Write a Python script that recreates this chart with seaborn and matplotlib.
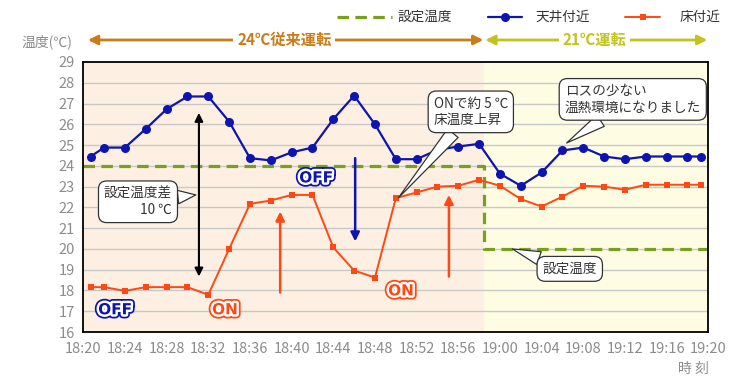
import numpy as np
import pandas as pd
import matplotlib
matplotlib.use('Agg')
import matplotlib.pyplot as plt
import matplotlib.patheffects as pe
from matplotlib.lines import Line2D
from matplotlib.ticker import MultipleLocator
import seaborn as sns

# time in minutes after 18:20
minutes = [0.7, 2, 4, 6, 8, 10, 12, 14, 16, 18, 20, 22, 24, 26, 28, 30,
           32, 34, 36, 38, 40, 42, 44, 46, 48, 50, 52, 54, 56, 58, 59.3]
ceiling = [24.45, 24.88, 24.88, 25.78, 26.73, 27.34, 27.34, 26.13, 24.37, 24.26,
           24.65, 24.88, 26.25, 27.38, 26.0, 24.32, 24.32, 24.77, 24.93, 25.06,
           23.62, 23.04, 23.68, 24.74, 24.88, 24.45, 24.32, 24.45, 24.45, 24.45, 24.45]
floor = [18.16, 18.16, 17.98, 18.16, 18.16, 18.16, 17.79, 20.0, 22.17, 22.33,
         22.6, 22.6, 20.07, 18.96, 18.62, 22.44, 22.72, 23.0, 23.04, 23.33,
         23.04, 22.40, 22.04, 22.52, 23.04, 23.0, 22.85, 23.09, 23.09, 23.09, 23.09]
set_x = [0, 38.5, 38.5, 60]
set_y = [24, 24, 20, 20]
switch_min = 38.5
xtick_labels = ['18:20', '18:24', '18:28', '18:32', '18:36', '18:40', '18:44', '18:48',
                '18:52', '18:56', '19:00', '19:04', '19:08', '19:12', '19:16', '19:20']

BLUE = '#0d14b0'
RED = '#ff4814'
GREEN = '#78a01e'
ORANGE = '#c87d19'
YGREEN = '#c3c31e'
GRAY = '#8c8c8c'
TXT = '#333333'

df = pd.DataFrame({'min': minutes, 'ceiling': ceiling, 'floor': floor})

sns.set_style('white')
plt.rcParams['font.family'] = ['Noto Sans CJK JP', 'DejaVu Sans']

fig = plt.figure(figsize=(7.5, 3.9), dpi=100)
ax = fig.add_axes([83.3 / 750, 1 - 332 / 390, 625 / 750, 270 / 390])

# background bands + grid
ax.axvspan(0, switch_min, color='#fdf0e2', zorder=0, lw=0)
ax.axvspan(switch_min, 60, color='#fefde4', zorder=0, lw=0)
for v in range(17, 29):
    ax.axhline(v, color='#c8c8c8', lw=1, zorder=0.5)

# set temperature
ax.plot(set_x, set_y, color=GREEN, lw=2.3, dashes=(3.6, 2.0), zorder=2)

sns.lineplot(data=df, x='min', y='ceiling', ax=ax, color=BLUE, lw=1.6,
             marker='o', markersize=6.5, markeredgewidth=0, zorder=3)
sns.lineplot(data=df, x='min', y='floor', ax=ax, color=RED, lw=1.4,
             marker='s', markersize=4.5, markeredgewidth=0, zorder=3)

ax.set_xlim(0, 60)
ax.set_ylim(16, 29)
ax.set_xticks(range(0, 61, 4))
ax.set_xticklabels(xtick_labels)
ax.xaxis.set_minor_locator(MultipleLocator(1))
ax.set_yticks(range(16, 30))
ax.set_xlabel('')
ax.set_ylabel('')
ax.tick_params(axis='x', which='major', direction='in', length=5, width=1,
               color='#444444', labelsize=10.5, labelcolor=GRAY, pad=7)
ax.tick_params(axis='x', which='minor', direction='in', length=3, width=0.8,
               color='#444444')
ax.tick_params(axis='y', length=0, labelsize=10.5, labelcolor=GRAY, pad=6)
for s in ax.spines.values():
    s.set_color('black')
    s.set_linewidth(1.3)

# top arrows for operating modes
ytop = 30.06
ax.annotate('', xy=(0.45, ytop), xytext=(38.4, ytop), annotation_clip=False,
            arrowprops=dict(arrowstyle='<|-|>', color=ORANGE, lw=2, mutation_scale=14,
                            shrinkA=0, shrinkB=0))
ax.text(19.3, ytop, '24℃従来運転', color=ORANGE, fontsize=11, fontweight='bold',
        ha='center', va='center', clip_on=False,
        bbox=dict(boxstyle='square,pad=0.25', fc='white', ec='none'))
ax.annotate('', xy=(38.6, ytop), xytext=(59.9, ytop), annotation_clip=False,
            arrowprops=dict(arrowstyle='<|-|>', color=YGREEN, lw=2, mutation_scale=14,
                            shrinkA=0, shrinkB=0))
ax.text(49.1, ytop, '21℃運転', color=YGREEN, fontsize=11, fontweight='bold',
        ha='center', va='center', clip_on=False,
        bbox=dict(boxstyle='square,pad=0.25', fc='white', ec='none'))

# vertical arrows inside the plot
ax.annotate('', xy=(11.1, 26.55), xytext=(11.1, 18.67),
            arrowprops=dict(arrowstyle='<|-|>', color='black', lw=1.5, mutation_scale=12,
                            shrinkA=0, shrinkB=0), zorder=4)
ax.annotate('', xy=(26.1, 20.36), xytext=(26.1, 24.37),
            arrowprops=dict(arrowstyle='-|>', color=BLUE, lw=1.8, mutation_scale=13,
                            shrinkA=0, shrinkB=0), zorder=4)
for xa, y0, y1 in [(18.9, 17.9, 21.8), (35.1, 18.67, 22.6)]:
    ax.annotate('', xy=(xa, y1), xytext=(xa, y0),
                arrowprops=dict(arrowstyle='-|>', color=RED, lw=1.8, mutation_scale=13,
                                shrinkA=0, shrinkB=0), zorder=4)

# ON / OFF badges
def badge(x, y, s, c):
    t = ax.text(x, y, s, color=c, fontsize=11, fontweight='bold', ha='center',
                va='center', family=['DejaVu Sans'], zorder=5)
    t.set_path_effects([pe.Stroke(linewidth=6, foreground=c),
                        pe.Stroke(linewidth=3.5, foreground='white'), pe.Normal()])

badge(3.05, 17.07, 'OFF', BLUE)
badge(13.6, 17.07, 'ON', RED)
badge(22.35, 23.42, 'OFF', BLUE)
badge(30.5, 17.98, 'ON', RED)

# callouts
def callout(text, xy, xyt, ma='left'):
    ax.annotate(text, xy=xy, xytext=xyt, fontsize=9.8, color=TXT, ha='center',
                va='center', multialignment=ma, zorder=6, linespacing=1.25,
                bbox=dict(boxstyle='round,pad=0.4,rounding_size=0.6', fc='white',
                          ec=TXT, lw=0.9),
                arrowprops=dict(arrowstyle='wedge,tail_width=1.0,shrink_factor=0.5',
                                fc='white', ec=TXT, lw=0.9, shrinkA=0, shrinkB=0))

callout('設定温度差\n10 ℃', (10.8, 22.6), (5.25, 22.27), ma='right')
callout('ONで約 5 ℃\n床温度上昇', (30.25, 22.46), (37.2, 26.6))
callout('ロスの少ない\n温熱環境になりました', (46.4, 25.1), (52.75, 27.2))
callout('設定温度', (41.2, 20.0), (46.7, 19.04))

# legend drawn along the top
ly = 1 - 17 / 390
fig.add_artist(Line2D([337 / 750, 392 / 750], [ly, ly], color=GREEN, lw=2.3,
                      dashes=(3.6, 2.0)))
fig.text(398 / 750, ly, '設定温度', fontsize=9.8, color=TXT, va='center')
fig.add_artist(Line2D([488 / 750, 522 / 750], [ly, ly], color=BLUE, lw=1.6))
fig.add_artist(Line2D([505 / 750], [ly], color=BLUE, marker='o', markersize=6.5,
                      markeredgewidth=0))
fig.text(535 / 750, ly, '天井付近', fontsize=9.8, color=TXT, va='center')
fig.add_artist(Line2D([625 / 750, 660 / 750], [ly, ly], color=RED, lw=1.4))
fig.add_artist(Line2D([643 / 750], [ly], color=RED, marker='s', markersize=4.5,
                      markeredgewidth=0))
fig.text(680 / 750, ly, '床付近', fontsize=9.8, color=TXT, va='center')

fig.text(72 / 750, 1 - 42 / 390, '温度(℃)', fontsize=10, color=GRAY, ha='right',
         va='center')
fig.text(709 / 750, 1 - 369 / 390, '時 刻', fontsize=10, color=GRAY, ha='right',
         va='center')

fig.savefig('out.png', dpi=100)
